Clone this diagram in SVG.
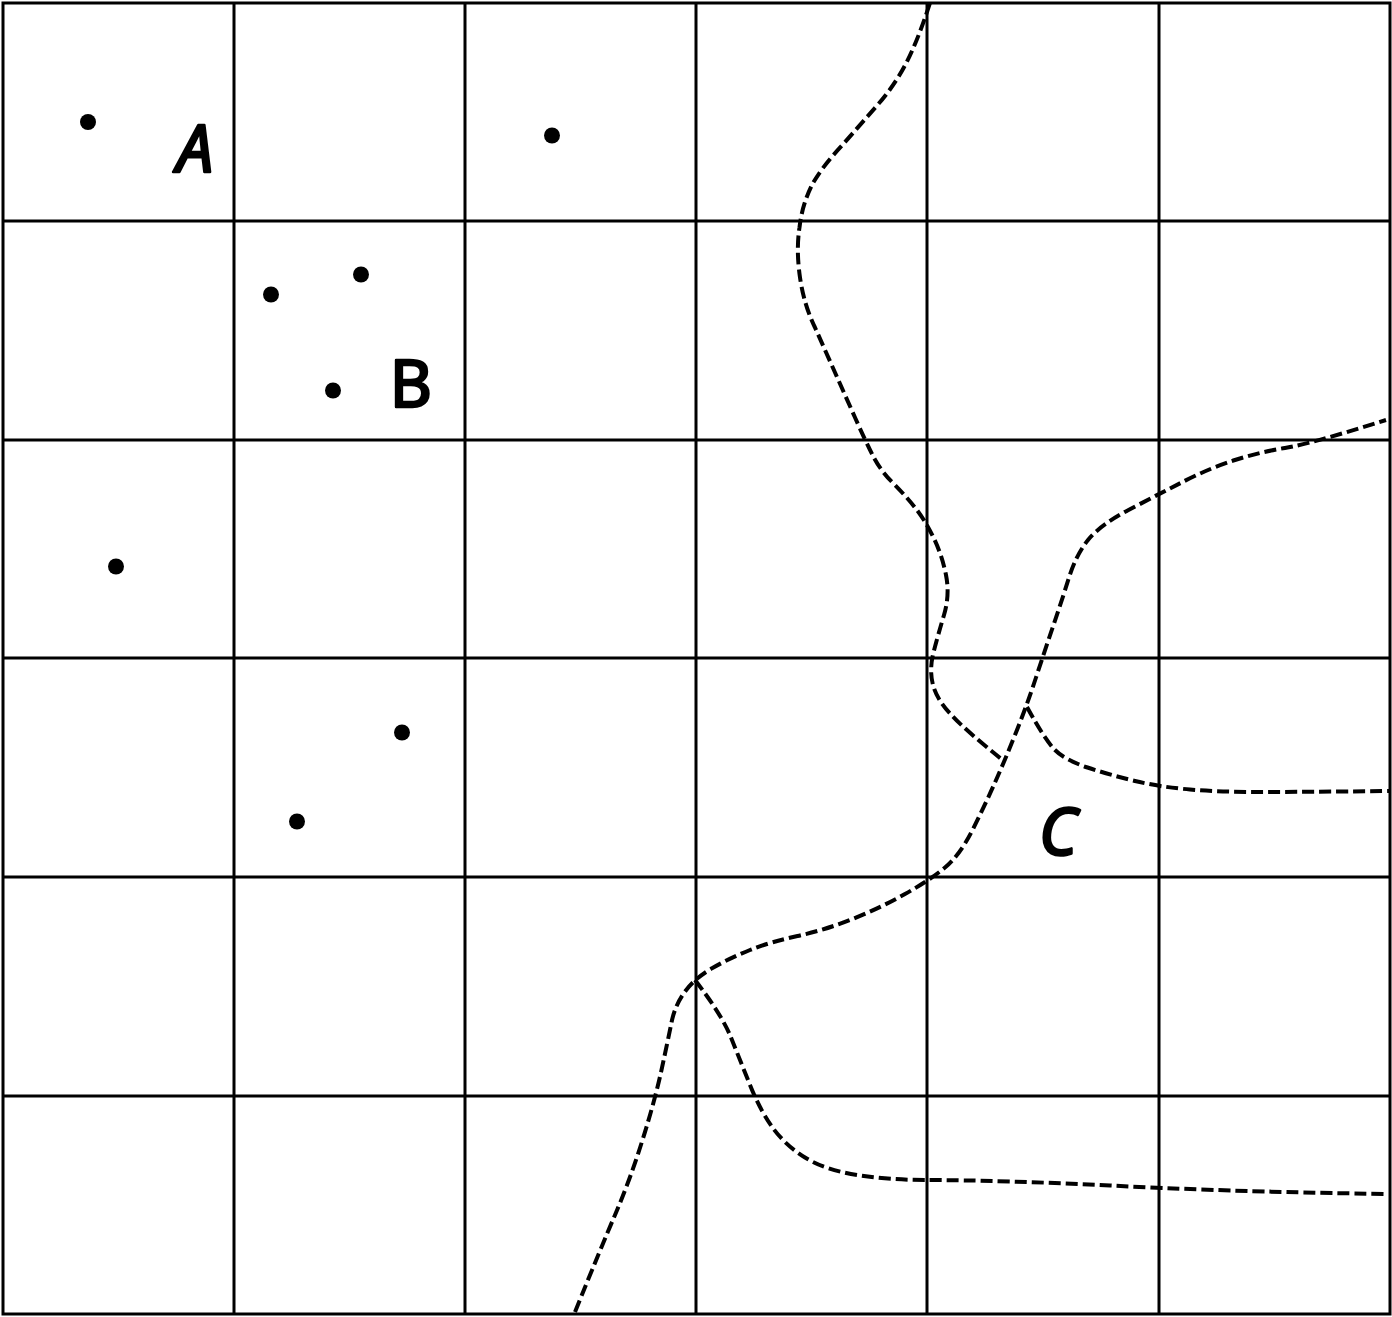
<svg xmlns="http://www.w3.org/2000/svg" width="1392" height="1317" viewBox="0 0 1392 1317">
<style>
.grid{fill:none;stroke:#000;stroke-width:3}
.edge{fill:none;stroke:#000;stroke-width:4;stroke-dasharray:12 5}
.dot{fill:#000}
.lbl{font-family:"Noto Sans","Liberation Sans",sans-serif;font-size:65px;fill:#000;stroke:#000;stroke-width:2.5;stroke-linejoin:round;stroke-linecap:round;text-anchor:middle}
.it{font-style:italic}
</style>
<rect width="1392" height="1317" fill="#fff"/>
<g id="grid" class="grid">
<rect x="3" y="3" width="1387" height="1311"/>
<path d="M234 3V1314M465 3V1314M696 3V1314M927 3V1314M1159 3V1314"/>
<path d="M3 221H1390M3 440H1390M3 658H1390M3 877H1390M3 1096H1390"/>
</g>
<g id="connectors">
<path class="edge" d="M930 3Q918 40 906.5 62.5Q895 85 877.5 105Q860 125 842.5 145Q821 168 812 185Q802 205 799.5 227.5Q796 250 800 277.5Q804 305 815 327.5Q825 350 835 372.5Q845 395 855 417.5Q865 440 872.5 455Q880 470 892.5 482.5Q905 495 915 507.5Q925 520 933.5 537.5Q942 555 946 575Q950 595 944 615Q938 635 933.5 652.5Q929 670 933 685Q937 700 951.5 715Q965 730 1005 762"/>
<path class="edge" d="M575 1312Q600 1250 615 1215Q630 1180 642.5 1140Q655 1100 661.5 1070Q668 1040 671.5 1022.5Q675 1005 685 991.5Q695 978 712.5 968Q730 958 750 950Q770 942 797.5 936Q825 930 852.5 919Q880 908 905 894Q930 880 945 867.5Q960 855 972.5 830Q985 805 995 782.5Q1005 760 1016 732.5Q1027 705 1036 677.5Q1045 650 1053.5 625Q1062 600 1069 577.5Q1076 555 1088 540Q1100 525 1128.5 510Q1157 495 1183.5 481.5Q1210 468 1235 460Q1260 452 1285 448Q1310 444 1386 420"/>
<path class="edge" d="M1027 707Q1045 740 1055 750Q1065 760 1087.5 767.5Q1110 775 1135 781Q1160 787 1190 789.5Q1220 792 1260 792Q1300 792 1390 791"/>
<path class="edge" d="M695 980Q722 1015 731 1037.5Q740 1060 750 1085Q760 1110 772.5 1127.5Q785 1145 805 1157.5Q825 1170 857.5 1175Q890 1180 925 1180Q960 1180 1010 1181.5Q1060 1183 1110 1185.5Q1160 1188 1215 1190Q1270 1192 1384 1194"/>
</g>
<g id="dot1"><circle class="dot" cx="88" cy="122" r="8"/></g>
<g id="dot2"><circle class="dot" cx="552" cy="135.500" r="8"/></g>
<g id="dot3"><circle class="dot" cx="271" cy="294.500" r="8"/></g>
<g id="dot4"><circle class="dot" cx="361" cy="274.500" r="8"/></g>
<g id="dot5"><circle class="dot" cx="333" cy="390.500" r="8"/></g>
<g id="dot6"><circle class="dot" cx="116" cy="566.500" r="8"/></g>
<g id="dot7"><circle class="dot" cx="402" cy="732.500" r="8"/></g>
<g id="dot8"><circle class="dot" cx="297" cy="821.500" r="8"/></g>
<g id="label-a"><text class="lbl it" x="195" y="172">A</text></g>
<g id="label-b"><text class="lbl" x="411" y="407">B</text></g>
<g id="label-c"><text class="lbl it" x="1058" y="855">C</text></g>
</svg>
